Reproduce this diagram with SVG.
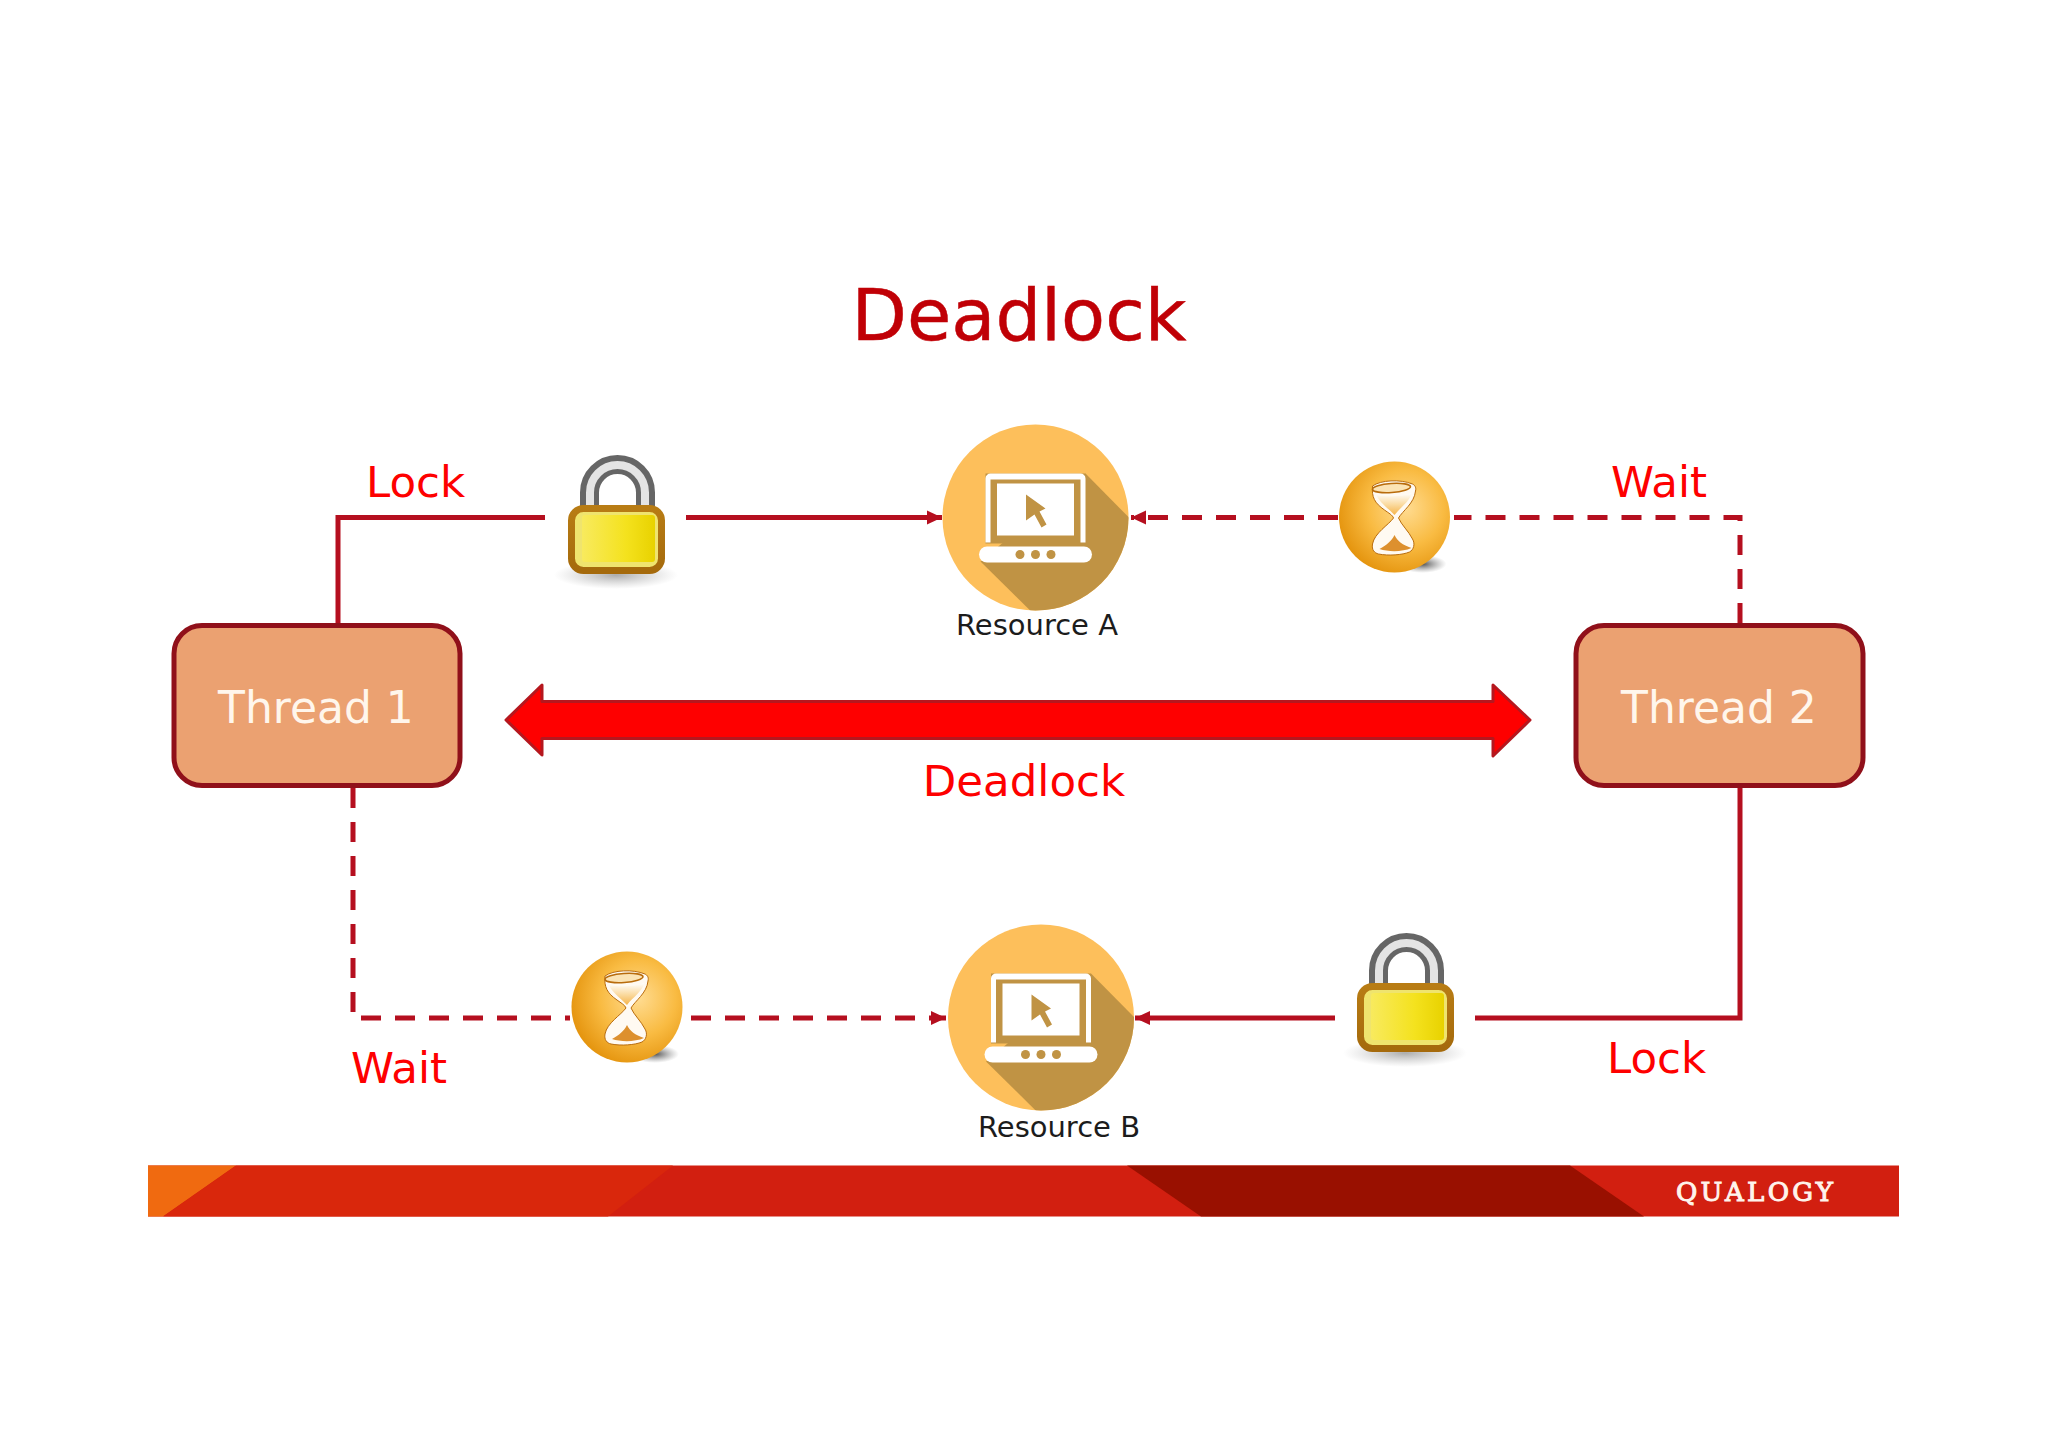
<svg xmlns="http://www.w3.org/2000/svg" width="2048" height="1447" viewBox="0 0 2048 1447">
<style>
text{font-family:"DejaVu Sans","Liberation Sans",sans-serif}
.lbl{fill:#fe0000;font-size:43.500px}
.res{fill:#1c1c1c;font-size:29px;text-anchor:middle}
.thr{fill:#fff6ec;font-size:44px}
.box{fill:#eba171;stroke:#90101a;stroke-width:5}
.ln{fill:none;stroke:#b50f1f;stroke-width:5}
.ds{stroke-dasharray:20 14}
.brand{font-family:"DejaVu Serif","Liberation Serif",serif;font-size:26px;font-weight:400;fill:#fff4ec;stroke:#fff4ec;stroke-width:1}
</style>
<defs>
<marker id="ah" markerUnits="userSpaceOnUse" markerWidth="16" markerHeight="16" refX="15" refY="8" orient="auto"><path d="M0,1L15,8L0,15z" fill="#b50f1f"/></marker>
<linearGradient id="body" x1="0" x2="1" y1="0" y2="0"><stop offset="0" stop-color="#f8ea5e"/><stop offset=".6" stop-color="#f4e21e"/><stop offset="1" stop-color="#e8d200"/></linearGradient>
<linearGradient id="edge" x1="0" x2="0" y1="0" y2="1"><stop offset="0" stop-color="#b87c14"/><stop offset="1" stop-color="#a56a0c"/></linearGradient>
<radialGradient id="ls"><stop offset="0" stop-color="#888" stop-opacity=".7"/><stop offset="1" stop-color="#aaa" stop-opacity="0"/></radialGradient>
<radialGradient id="orb" cx=".6" cy=".42" r=".62"><stop offset="0" stop-color="#ffdc92"/><stop offset=".55" stop-color="#f9bb42"/><stop offset="1" stop-color="#e5950f"/></radialGradient>
<linearGradient id="bulb" x1="0" x2="0" y1="0" y2="1"><stop offset="0" stop-color="#fff"/><stop offset=".5" stop-color="#fbdca4"/><stop offset="1" stop-color="#f5b44a"/></linearGradient>
<radialGradient id="os"><stop offset="0" stop-color="#333" stop-opacity=".85"/><stop offset="1" stop-color="#777" stop-opacity="0"/></radialGradient>
<clipPath id="cc"><circle cx="0" cy="0" r="93"/></clipPath>
<g id="lock">
<ellipse cx="48" cy="120" rx="62" ry="14" fill="url(#ls)"/>
<path d="M21.500,55V37.500A28,28 0 0 1 77.500,37.500V55" fill="none" stroke="#666" stroke-width="19"/>
<path d="M22,55V37.500A27.500,27.500 0 0 1 77,37.500V55" fill="none" stroke="#e4e4e4" stroke-width="8"/>
<rect x="3.500" y="53.500" width="90" height="62" rx="12" fill="#efe46e" stroke="url(#edge)" stroke-width="7"/>
<rect x="14" y="60" width="73" height="47" rx="3" fill="url(#body)"/>
</g>
<g id="orbg">
<ellipse cx="28" cy="47" rx="24" ry="9" fill="url(#os)"/>
<circle r="55.500" fill="url(#orb)"/>
<path d="M-22,-31C-23,-20 -20,-14 -10,-7C-6,-4 -2,-2 -1,1C-6,8 -20,16 -22,27C-23,33 -20,36 -16,37C-6,39 8,38 15,35C19,33 21,27 18,22C14,14 7,8 4,1C8,-6 20,-14 21,-26C22,-30 20,-32 18,-33C6,-38 -14,-37 -22,-31Z" fill="#fffaf2" stroke="#b96c0c" stroke-width="1"/>
<path d="M-18,-22C-16,-16 -8,-10 0,-2C6,-10 16,-16 17,-24C8,-20 -8,-20 -18,-22Z" fill="url(#bulb)"/>
<ellipse cx="-3" cy="-29" rx="19" ry="4.500" transform="rotate(-4 -3 -29)" fill="#fbe3b4" stroke="#b96c0c" stroke-width="1.600"/>
<path d="M-15,32C-8,28 -3,24 0,18C3,24 8,28 17,31C8,35 -6,35 -15,32Z" fill="#dd902e"/>
</g>
<g id="laptop">
<circle r="93" fill="#fdbf5b"/>
<path d="M50,-44L121,28L121,121L23,121L-55,44Z" fill="#c09344" clip-path="url(#cc)"/>
<rect x="-50" y="-44" width="100" height="70" fill="#c09344"/>
<path d="M-50,25V-39a5,5 0 0 1 5,-5H45a5,5 0 0 1 5,5V25H45V-38H-45V25Z" fill="#fff"/>
<rect x="-38.500" y="-34" width="77" height="52" fill="#fff"/>
<path d="M-9.500,-23L10,-9L4,-6L11,7L6,10L-1,-3L-9.500,3Z" fill="#c09344"/>
<rect x="-56.500" y="29" width="113" height="16" rx="8" fill="#fff"/>
<circle cx="-15.500" cy="37" r="4.500" fill="#c09344"/><circle cx="0" cy="37" r="4.500" fill="#c09344"/><circle cx="15.500" cy="37" r="4.500" fill="#c09344"/>
</g>
</defs>
<rect width="2048" height="1447" fill="#fff"/>
<text x="1019" y="340" font-size="72" fill="#c00006" stroke="#c00006" stroke-width=".5" text-anchor="middle" id="title">Deadlock</text>
<g id="connectors">
<path class="ln" d="M338,623V517.500H545"/>
<path class="ln" d="M686,517.500H942" marker-end="url(#ah)"/>
<path class="ln ds" d="M1740,623V517.500H1454"/>
<path class="ln ds" d="M1338,517.500H1131" marker-end="url(#ah)"/>
<path class="ln ds" d="M353,788V1018H570"/>
<path class="ln ds" d="M691,1018H946" marker-end="url(#ah)"/>
<path class="ln" d="M1740,788V1018H1475"/>
<path class="ln" d="M1335,1018H1135" marker-end="url(#ah)"/>
</g>
<g id="thread-1"><rect class="box" x="174" y="625.500" width="286" height="160" rx="28"/><text class="thr" x="218" y="723">Thread 1</text></g>
<g id="thread-2"><rect class="box" x="1576" y="625.500" width="287" height="160" rx="28"/><text class="thr" x="1621" y="723">Thread 2</text></g>
<g id="lock-1"><use href="#lock" x="568" y="455"/></g>
<g id="lock-2"><use href="#lock" x="1357" y="933"/></g>
<g id="wait-1"><use href="#orbg" x="1394.500" y="517"/></g>
<g id="wait-2"><use href="#orbg" x="627" y="1007"/></g>
<g id="resource-a"><use href="#laptop" x="1035.500" y="517.500"/><text class="res" x="1037" y="635">Resource A</text></g>
<g id="resource-b"><use href="#laptop" x="1041" y="1017.500"/><text class="res" x="1059" y="1137">Resource B</text></g>
<g id="deadlock-arrow"><path d="M506,720L542,685V701.500H1493V685L1530,720L1493,756V738.500H542V755Z" fill="#fe0000" stroke="#b5171e" stroke-width="3" stroke-linejoin="round"/><text class="lbl" x="1024" y="796" text-anchor="middle">Deadlock</text></g>
<text class="lbl" x="366" y="497">Lock</text>
<text class="lbl" x="1611" y="497">Wait</text>
<text class="lbl" x="1607" y="1073">Lock</text>
<text class="lbl" x="351" y="1083">Wait</text>
<g id="footer">
<rect x="148" y="1165.500" width="1751" height="51" fill="#d21f10"/>
<path d="M148,1165.500H236L163,1216.500H148Z" fill="#f06a10"/>
<path d="M236,1165.500H673L608,1216.500H163Z" fill="#d9270c"/>
<path d="M1127,1165.500H1570L1644,1216.500H1201Z" fill="#991000"/>
<text class="brand" x="1676" y="1201" textLength="157">QUALOGY</text>
</g>
</svg>
